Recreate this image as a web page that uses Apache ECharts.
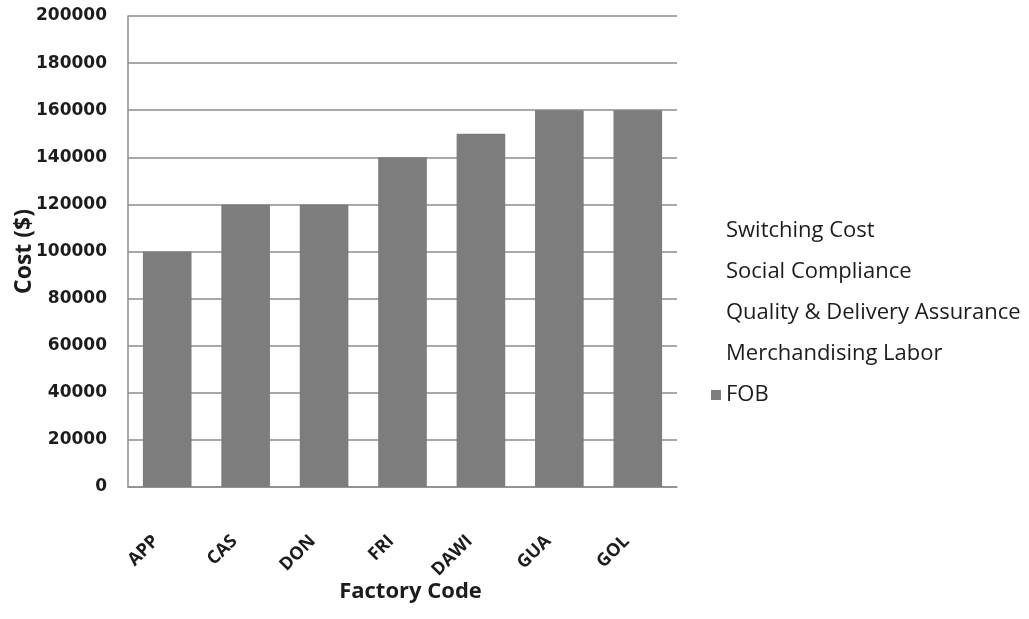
<!DOCTYPE html>
<html>
<head>
<meta charset="utf-8">
<script src="https://cdn.jsdelivr.net/npm/echarts@6/dist/echarts.min.js"></script>
<style>
  html, body { margin: 0; padding: 0; background: #ffffff; }
  #chart { width: 1029px; height: 619px; }
</style>
</head>
<body>
<div id="chart"></div>
<script>
// Factory codes along the category axis
const factories = ['APP', 'CAS', 'DON', 'FRI', 'DAWI', 'GUA', 'GOL'];

// Cost components per factory ($)
const fob = [100000, 120000, 120000, 140000, 150000, 160000, 160000];
const merchandisingLabor = [0, 0, 0, 0, 0, 0, 0];
const qualityDelivery = [0, 0, 0, 0, 0, 0, 0];
const socialCompliance = [0, 0, 0, 0, 0, 0, 0];
const switchingCost = [0, 0, 0, 0, 0, 0, 0];

// Value axis settings
const yMin = 0;
const yMax = 200000;
const yStep = 20000;

const legendOrder = ['Switching Cost', 'Social Compliance', 'Quality & Delivery Assurance', 'Merchandising Labor', 'FOB'];

const chart = echarts.init(document.getElementById('chart'), null, { renderer: 'canvas' });

const gridGray = '#8c8c8c';
const inkColor = '#1c1c1c';
const clear = 'rgba(0,0,0,0)';

function component(name, data, color) {
  return {
    name: name,
    type: 'bar',
    stack: 'cost',
    data: data,
    barWidth: '62%',
    itemStyle: { color: color },
    emphasis: { disabled: true }
  };
}

chart.setOption({
  animation: false,
  backgroundColor: '#ffffff',
  grid: { left: 128, right: 352, top: 16, bottom: 132, containLabel: false, outerBoundsMode: 'none' },
  legend: {
    orient: 'vertical',
    left: 706,
    top: 214,
    itemWidth: 10,
    itemHeight: 10,
    itemGap: 17,
    icon: 'rect',
    selectedMode: false,
    data: legendOrder,
    textStyle: { fontFamily: 'Open Sans', fontSize: 22, color: inkColor, lineHeight: 24 }
  },
  xAxis: {
    type: 'category',
    data: factories,
    name: 'Factory Code',
    nameLocation: 'middle',
    nameGap: 94,
    nameMoveOverlap: false,
    nameTextStyle: { fontFamily: 'Open Sans', fontWeight: 'bold', fontSize: 22, color: inkColor, padding: [0, 0, 0, 16] },
    axisLine: { show: true, lineStyle: { color: gridGray, width: 1.5 } },
    axisTick: { show: false },
    axisLabel: {
      rotate: 45,
      margin: 40,
      padding: [0, 16, 0, 0],
      fontFamily: 'Open Sans',
      fontWeight: 'bold',
      fontSize: 18,
      color: inkColor
    }
  },
  yAxis: {
    type: 'value',
    min: yMin,
    max: yMax,
    interval: yStep,
    name: 'Cost ($)',
    nameLocation: 'middle',
    nameGap: 92,
    nameMoveOverlap: false,
    nameTextStyle: { fontFamily: 'Open Sans', fontWeight: 'bold', fontSize: 23, color: inkColor },
    axisLine: { show: true, lineStyle: { color: gridGray, width: 1.5 } },
    axisTick: { show: false },
    axisLabel: {
      margin: 21,
      formatter: function (v) { return String(v); },
      fontFamily: 'DejaVu Sans',
      fontWeight: 'bold',
      fontSize: 17,
      color: inkColor
    },
    splitLine: { show: true, lineStyle: { color: gridGray, width: 1.5 } }
  },
  series: [
    component('FOB', fob, '#7d7d7d'),
    component('Merchandising Labor', merchandisingLabor, clear),
    component('Quality & Delivery Assurance', qualityDelivery, clear),
    component('Social Compliance', socialCompliance, clear),
    component('Switching Cost', switchingCost, clear)
  ]
});
</script>
</body>
</html>
